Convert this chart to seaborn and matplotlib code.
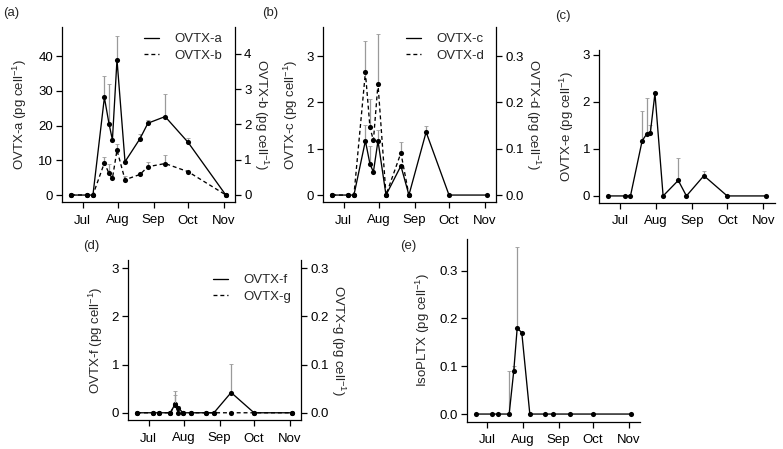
"""
Ovatoxin / isoPLTX cell quotas over the season, panels (a)-(e)
"""
import numpy as np
import pandas as pd
import matplotlib
matplotlib.use('Agg')
import matplotlib.pyplot as plt
import matplotlib.dates as mdates
from matplotlib.lines import Line2D
import seaborn as sns

# sampling dates (same for all panels)
dates = pd.to_datetime(['2019-06-21', '2019-07-05', '2019-07-10', '2019-07-20',
                        '2019-07-24', '2019-07-27', '2019-07-31', '2019-08-07',
                        '2019-08-20', '2019-08-27', '2019-09-11', '2019-10-01',
                        '2019-11-03'])

# (a) OVTX-a (left) and OVTX-b (right)
ovtx_a = [0, 0, 0, 28.1, 20.6, 15.9, 39.0, 9.6, 16.2, 20.7, 22.6, 15.2, 0]
ovtx_a_sd = [0, 0, 0, 6.2, 11.5, 0, 6.7, 0, 1.4, 0.9, 6.4, 1.1, 0]
ovtx_b = [0, 0, 0, 0.91, 0.61, 0.47, 1.27, 0.43, 0.58, 0.80, 0.89, 0.66, 0]
ovtx_b_sd = [0, 0, 0, 0.17, 0.28, 0, 0.17, 0.12, 0, 0.14, 0.24, 0, 0]

# (b) OVTX-c (left) and OVTX-d (right)
ovtx_c = [0, 0, 0, 1.17, 0.67, 0.50, 1.17, 0, 0.63, 0, 1.36, 0, 0]
ovtx_c_sd = [0, 0, 0, 0.34, 0.38, 0, 0.23, 0, 0, 0, 0.13, 0, 0]
ovtx_d = [0, 0, 0, 0.265, 0.146, 0.118, 0.240, 0, 0.091, 0,
          np.nan, np.nan, np.nan]
ovtx_d_sd = [0, 0, 0, 0.068, 0.062, 0, 0.107, 0, 0.024, 0, 0, 0, 0]

# (c) OVTX-e
ovtx_e = [0, 0, 0, 1.17, 1.32, 1.33, 2.18, 0, 0.33, 0, 0.43, 0, 0]
ovtx_e_sd = [0, 0, 0, 0.63, 0.76, 0.17, 0, 0, 0.48, 0, 0.09, 0, 0]

# (d) OVTX-f (left) and OVTX-g (right)
ovtx_f = [0, 0, 0, 0, 0.18, 0.10, 0, 0, 0, 0, 0.42, 0, 0]
ovtx_f_sd = [0, 0, 0, 0, 0.28, 0.05, 0, 0, 0, 0, 0.60, 0, 0]
ovtx_g = [0, 0, 0, 0, 0.017, 0, 0, 0, 0, 0, 0, 0, 0]
ovtx_g_sd = [0, 0, 0, 0, 0.02, 0, 0, 0, 0, 0, 0, 0, 0]

# (e) isoPLTX
iso_pltx = [0, 0, 0, 0, 0.09, 0.18, 0.17, 0, 0, 0, 0, 0, 0]
iso_pltx_sd = [0, 0, 0, 0.09, 0.01, 0.17, 0, 0, 0, 0, 0, 0, 0]

sns.set_theme(style='ticks')
plt.rcParams['font.family'] = ['Liberation Sans', 'DejaVu Sans']
plt.rcParams['mathtext.default'] = 'regular'
FS = 9.5
DASH = (0, (3, 2.2))
ERR_COL = '#9a9a9a'
UNIT = r' (pg cell$^{-1}$)'
XLIM = ('2019-06-13', '2019-11-11')

fig = plt.figure(figsize=(7.83, 4.49), dpi=100)


def px_rect(l, t, r, b):
    return [l / 783, 1 - b / 449, (r - l) / 783, (b - t) / 449]


def style_ax(ax, right=False):
    ax.spines['top'].set_visible(False)
    ax.spines['right'].set_visible(right)
    for s in ax.spines.values():
        s.set_linewidth(0.9)
        s.set_color('black')
    ax.tick_params(labelsize=FS, length=4, width=0.9, colors='black',
                   direction='out')
    ax.tick_params(axis='y', pad=2.5)
    ax.tick_params(axis='x', pad=5)
    ax.set_facecolor('none')


def draw_series(ax, y, sd, dashed=False):
    y = np.asarray(y, dtype=float)
    sd = np.asarray(sd, dtype=float)
    ok = ~np.isnan(y)
    ax.errorbar(dates[ok], y[ok], yerr=[np.zeros(ok.sum()), sd[ok]],
                fmt='none', ecolor=ERR_COL, elinewidth=0.9, capsize=1.6,
                capthick=0.6, zorder=2)
    sns.lineplot(x=dates[ok], y=y[ok], ax=ax, color='black', lw=0.95,
                 linestyle=DASH if dashed else '-', marker='o', markersize=3.7,
                 markeredgewidth=0, zorder=3)


def date_axis(ax, start, end):
    ax.set_xlim(pd.Timestamp(start), pd.Timestamp(end))
    ax.xaxis.set_major_locator(mdates.MonthLocator(bymonth=[7, 8, 9, 10, 11]))
    ax.xaxis.set_major_formatter(mdates.DateFormatter('%b'))
    ax.set_xlabel('')


def add_legend(ax, labels, x, y):
    handles = [Line2D([], [], color='black', lw=0.95),
               Line2D([], [], color='black', lw=0.95, linestyle=DASH)]
    ax.legend(handles, labels, loc='upper left', bbox_to_anchor=(x / 783, 1 - y / 449),
              bbox_transform=fig.transFigure, frameon=False, fontsize=FS,
              handlelength=1.1, handletextpad=1.2, labelspacing=0.35,
              borderpad=0, borderaxespad=0)


def twin_panel(rect, left, left_sd, right, right_sd, ylim_l, ylim_r,
               ticks_l, ticks_r, names, fmt_r, legend_xy, lpad=5):
    ax = fig.add_axes(rect)
    draw_series(ax, left, left_sd)
    ax2 = ax.twinx()
    draw_series(ax2, right, right_sd, dashed=True)
    for a in (ax, ax2):
        date_axis(a, *XLIM)
    ax.set_ylim(*ylim_l)
    ax2.set_ylim(*ylim_r)
    ax.set_yticks(ticks_l)
    ax2.set_yticks(ticks_r)
    ax2.set_yticklabels([fmt_r.format(t) for t in ticks_r])
    style_ax(ax)
    style_ax(ax2, right=True)
    ax2.spines['left'].set_visible(False)
    ax2.spines['bottom'].set_visible(False)
    ax.set_ylabel(names[0] + UNIT, fontsize=FS, labelpad=lpad)
    ax2.set_ylabel(names[1] + UNIT, fontsize=FS, rotation=270, va='bottom',
                   labelpad=0)
    add_legend(ax2, names, *legend_xy)
    return ax, ax2


def single_panel(rect, y, sd, ylim, ticks, name, fmt, lpad=5):
    ax = fig.add_axes(rect)
    draw_series(ax, y, sd)
    date_axis(ax, *XLIM)
    ax.set_ylim(*ylim)
    ax.set_yticks(ticks)
    ax.set_yticklabels([fmt.format(t) for t in ticks])
    style_ax(ax)
    ax.set_ylabel(name + UNIT, fontsize=FS, labelpad=lpad)
    return ax


# (a)
twin_panel(px_rect(62, 27, 235, 202), ovtx_a, ovtx_a_sd, ovtx_b, ovtx_b_sd,
           (-2.0, 48.4), (-0.2, 4.76), [0, 10, 20, 30, 40], [0, 1, 2, 3, 4],
           ['OVTX-a', 'OVTX-b'], '{:.0f}', (144, 33), lpad=6.5)

# (b)
twin_panel(px_rect(323, 27, 496, 202), ovtx_c, ovtx_c_sd, ovtx_d, ovtx_d_sd,
           (-0.15, 3.63), (-0.015, 0.363), [0, 1, 2, 3], [0.0, 0.1, 0.2, 0.3],
           ['OVTX-c', 'OVTX-d'], '{:.1f}', (406, 33))

# (c)
single_panel(px_rect(599, 50, 775, 203), ovtx_e, ovtx_e_sd, (-0.15, 3.1),
             [0, 1, 2, 3], 'OVTX-e', '{:.0f}', lpad=4.5)

# (d)
twin_panel(px_rect(128, 260, 301, 420), ovtx_f, ovtx_f_sd, ovtx_g, ovtx_g_sd,
           (-0.15, 3.17), (-0.015, 0.317), [0, 1, 2, 3], [0.0, 0.1, 0.2, 0.3],
           ['OVTX-f', 'OVTX-g'], '{:.1f}', (213, 274))

# (e)
single_panel(px_rect(466.7, 239, 640, 421.7), iso_pltx, iso_pltx_sd,
             (-0.016, 0.366), [0.0, 0.1, 0.2, 0.3], 'IsoPLTX', '{:.1f}')

# panel letters
for lab, x, y in [('(a)', 3, 13), ('(b)', 262, 13), ('(c)', 555, 16),
                  ('(d)', 83, 246), ('(e)', 400, 246)]:
    fig.text(x / 783, 1 - y / 449, lab, fontsize=FS, ha='left', va='center')

fig.savefig('out.png', dpi=100)
